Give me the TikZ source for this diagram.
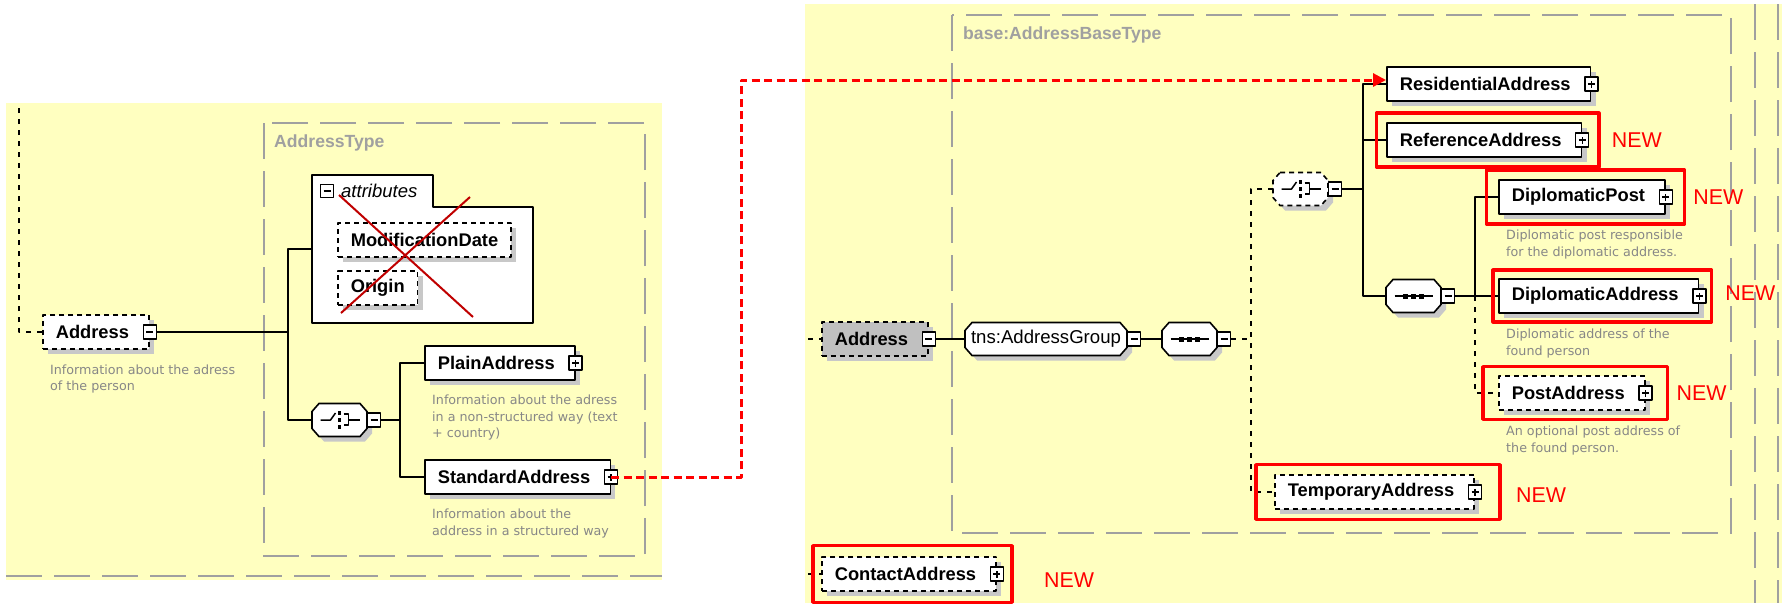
\documentclass[tikz,border=0pt]{standalone}
\usepackage{fontspec}
\setmainfont{Liberation Sans}
\newfontfamily\descfont{DejaVu Sans}
\usetikzlibrary{calc}
\usetikzlibrary{arrows.meta}
\usetikzlibrary{positioning}
\usetikzlibrary{fit}
\usetikzlibrary{shadows}

\definecolor{paneyellow}{RGB}{255,255,192}
\definecolor{framegray}{RGB}{160,160,160}
\definecolor{shadegray}{RGB}{200,200,200}
\definecolor{descgray}{RGB}{135,135,135}
\definecolor{keygray}{RGB}{192,192,192}
\definecolor{crossred}{RGB}{192,0,0}
\definecolor{markred}{RGB}{255,0,0}

\pgfdeclarelayer{panes}
\pgfdeclarelayer{shapes}
\pgfsetlayers{panes,shapes,main}

\newcommand{\btnpad}{\hspace*{7pt}}
\newcommand{\octpath}[1]{([xshift=7pt]#1.north west) -- ([xshift=-7pt]#1.north east) -- ([yshift=-8pt]#1.north east) -- ([yshift=8pt]#1.south east) -- ([xshift=-7pt]#1.south east) -- ([xshift=7pt]#1.south west) -- ([yshift=8pt]#1.south west) -- ([yshift=-8pt]#1.north west) -- cycle}

\begin{document}
\begin{tikzpicture}[x=1pt, y=-1pt, line join = round, >={Triangle[length=13pt, width=13pt]}]
\tikzstyle{elembox}=[draw=black, line width=1.6pt, fill=white, anchor=west, minimum height=34pt, inner xsep=13pt, inner ysep=0pt, font=\fontsize{18.3pt}{22pt}\selectfont\bfseries, drop shadow={shadow xshift=5pt, shadow yshift=-5pt, fill=shadegray, opacity=1}]
\tikzstyle{optbox}=[elembox, dash pattern=on 5pt off 4pt]
\tikzstyle{comp}=[rectangle, anchor=west, minimum width=55pt, minimum height=33pt, inner sep=0pt, outer sep=0pt]
\tikzstyle{grpbox}=[comp, minimum width=162pt, font=\fontsize{18.6pt}{22pt}\selectfont]
\tikzstyle{compline}=[draw=black, line width=1.6pt, fill=white]
\tikzstyle{compshade}=[fill=shadegray, transform canvas={shift={(5pt,-5pt)}}]
\tikzstyle{btn}=[draw=black, solid, line width=1.3pt, fill=white, minimum width=13pt, minimum height=14pt, inner sep=0pt]
\tikzstyle{minusbtn}=[btn, path picture={\draw[line width=1.3pt] ([xshift=-3.5pt]path picture bounding box.center) -- ([xshift=3.5pt]path picture bounding box.center);}]
\tikzstyle{plusbtn}=[btn, path picture={\draw[line width=1.3pt] ([xshift=-3.5pt]path picture bounding box.center) -- ([xshift=3.5pt]path picture bounding box.center); \draw[line width=1.3pt] ([yshift=-3.5pt]path picture bounding box.center) -- ([yshift=3.5pt]path picture bounding box.center);}]
\tikzstyle{descr}=[align=left, inner sep=0pt, text=descgray, font=\descfont\fontsize{12.7pt}{16.5pt}\selectfont]
\tikzstyle{frametitle}=[anchor=west, inner sep=0pt, text=framegray, font=\fontsize{17.6pt}{20pt}\selectfont\bfseries]
\tikzstyle{typeframe}=[draw=framegray, line width=2pt, dash pattern=on 36pt off 12pt]
\tikzstyle{link}=[draw=black, line width=1.6pt]
\tikzstyle{optlink}=[draw=black, line width=1.6pt, dash pattern=on 5pt off 6pt]
\tikzstyle{redlink}=[draw=markred, line width=3pt, dash pattern=on 8pt off 4.5pt, ->]
\tikzstyle{newmark}=[draw=markred, line width=3.5pt, inner sep=9pt]
\tikzstyle{newtag}=[inner sep=0pt, text=markred, font=\fontsize{21.4pt}{24pt}\selectfont]
\tikzset{
  seqmark/.pic={
    \draw[solid, line width=1.5pt] (-19,0) -- (19,0);
    \foreach \dx in {-8,0,8} \fill (\dx-2.5,-2.5) rectangle (\dx+2.5,2.5);
  },
  choicemark/.pic={
    \draw[solid, line width=1.5pt] (-19,0) -- (-9,0) -- (-4,-7);
    \foreach \dy in {-7,0,7} \fill (-1.7,\dy-1.7) rectangle (1.7,\dy+1.7);
    \draw[solid, line width=1.5pt] (4,-6) -- (9,-6) -- (9,5) -- (4,5) (9,0) -- (20,0);
  }
}
\useasboundingbox (0,0) rectangle (1787,603);

\begin{pgfonlayer}{panes}
\fill[white] (0,0) rectangle (1787,603);
\fill[paneyellow] (6,103) rectangle (662,580);
\draw[typeframe] (6,576) -- (662,576);
\draw[typeframe] (264,123) rectangle (645,556);
\fill[paneyellow] (805,4) rectangle (1782,603);
\draw[typeframe] (952,15) rectangle (1731,533);
\draw[typeframe] (1755,4) -- (1755,603);
\draw[typeframe] (1778,4) -- (1778,603);
\end{pgfonlayer}
\node[frametitle] (addrtype-title) at (274,143) {AddressType};
\node[frametitle] (basetype-title) at (963,35) {base:AddressBaseType};

\node[optbox] (addr1) at (42,332) {Address\btnpad};
\node[minusbtn] (addr1-pm) at (addr1.east) {};
\node[descr, below right=14.5pt and 8pt of addr1.south west] (addr1-desc) {Information about the adress\\of the person};

\node[anchor=north west, minimum width=221pt, minimum height=148pt, inner sep=0pt, outer sep=0pt] (attr) at (312,175) {};
\draw[line width=1.6pt, fill=white] (attr.south west) -- (attr.north west) -- ([xshift=121pt]attr.north west) -- ([xshift=121pt, yshift=-32pt]attr.north west) -- ([yshift=-32pt]attr.north east) -- (attr.south east) -- cycle;
\node[minusbtn, minimum height=13pt] (attr-pm) at (327,191) {};
\node[anchor=west, inner sep=0pt, font=\fontsize{18.5pt}{22pt}\selectfont\itshape] (attr-title) at (341,191) {attributes};
\node[optbox] (moddate) at (337,240) {ModificationDate};
\node[optbox] (origin) at (337,288) {Origin};
\draw[crossred, line width=2pt] (339,195) -- (473,317);
\draw[crossred, line width=2pt] (470,197) -- (341,313);

\node[comp] (choice1) at (312,420) {};
\pic at (choice1.center) {choicemark};
\node[minusbtn, anchor=west] (choice1-pm) at (choice1.east) {};

\node[elembox] (plain) at (424,363) {PlainAddress\btnpad};
\node[plusbtn] (plain-pm) at (plain.east) {};
\node[descr, below right=14pt and 8pt of plain.south west] (plain-desc) {Information about the adress\\in a non-structured way (text\\+ country)};
\node[elembox] (std) at (424,477) {StandardAddress\btnpad};
\node[plusbtn] (std-pm) at (std.east) {};
\node[descr, below right=14pt and 8pt of std.south west] (std-desc) {Information about the\\address in a structured way};

\coordinate (t1) at (288,332);
\coordinate (t2) at (400,420);
\coordinate (leftstub) at (19,108);
\draw[optlink] (addr1.west) -| (leftstub);
\draw[link] (addr1-pm.east) -- (t1);
\draw[link] (attr.west) -| (t1) |- (choice1.west);
\draw[link] (choice1-pm.east) -- (t2);
\draw[link] (plain.west) -| (t2) |- (std.west);

\node[optbox, fill=keygray] (addr2) at (821,339) {Address\btnpad};
\node[minusbtn] (addr2-pm) at (addr2.east) {};
\node[grpbox] (grp) at (965,339) {tns:AddressGroup};
\node[minusbtn, anchor=west] (grp-pm) at (grp.east) {};
\node[comp] (seq1) at (1162,339) {};
\pic at (seq1.center) {seqmark};
\node[minusbtn, anchor=west] (seq1-pm) at (seq1.east) {};
\node[comp] (choice2) at (1273,189) {};
\pic at (choice2.center) {choicemark};
\node[minusbtn, anchor=west] (choice2-pm) at (choice2.east) {};
\node[elembox] (res) at (1386,84) {ResidentialAddress\btnpad};
\node[plusbtn] (res-pm) at (res.east) {};
\node[elembox] (ref) at (1386,140) {ReferenceAddress\btnpad};
\node[plusbtn] (ref-pm) at (ref.east) {};
\node[comp] (seq2) at (1386,296) {};
\pic at (seq2.center) {seqmark};
\node[minusbtn, anchor=west] (seq2-pm) at (seq2.east) {};
\node[elembox] (dippost) at (1498,197) {DiplomaticPost\btnpad};
\node[plusbtn] (dippost-pm) at (dippost.east) {};
\node[descr, below right=15pt and 8pt of dippost.south west] (dippost-desc) {Diplomatic post responsible\\for the diplomatic address.};
\node[elembox] (dipaddr) at (1498,296) {DiplomaticAddress\btnpad};
\node[plusbtn] (dipaddr-pm) at (dipaddr.east) {};
\node[descr, below right=15pt and 8pt of dipaddr.south west] (dipaddr-desc) {Diplomatic address of the\\found person};
\node[optbox] (post) at (1498,393) {PostAddress\btnpad};
\node[plusbtn] (post-pm) at (post.east) {};
\node[descr, below right=15pt and 8pt of post.south west] (post-desc) {An optional post address of\\the found person.};
\node[optbox] (temp) at (1274,492) {TemporaryAddress\btnpad};
\node[plusbtn] (temp-pm) at (temp.east) {};
\node[optbox] (contact) at (821,574) {ContactAddress\btnpad};
\node[plusbtn] (contact-pm) at (contact.east) {};

\begin{pgfonlayer}{shapes}
\foreach \c in {choice1,grp,seq1,seq2,choice2} \fill[compshade] \octpath{\c};
\foreach \c in {choice1,grp,seq1,seq2} \draw[compline] \octpath{\c};
\draw[compline, dash pattern=on 5pt off 4pt] \octpath{choice2};
\end{pgfonlayer}

\coordinate (t3) at (1251,339);
\coordinate (t4) at (1363,189);
\coordinate (t5) at (1475,296);
\coordinate (addr2-stub) at (808,339);
\coordinate (contact-stub) at (808,574);
\coordinate (jog) at (741,0);
\draw[optlink] (addr2-stub) -- (addr2.west);
\draw[link] (addr2-pm.east) -- (grp.west);
\draw[link] (grp-pm.east) -- (seq1.west);
\draw[optlink] (seq1-pm.east) -- (t3);
\draw[optlink] (choice2.west) -| (t3) |- (temp.west);
\draw[link] (choice2-pm.east) -- (t4);
\draw[link] (res.west) -| (t4) |- (seq2.west);
\draw[link] (ref.west) -- (ref.west -| t4);
\draw[link] (seq2-pm.east) -- (dipaddr.west);
\draw[link] (dippost.west) -| (t5);
\draw[optlink] (t5) |- (post.west);
\draw[optlink] (contact-stub) -- (contact.west);
\draw[redlink] (std-pm.center) -- (std-pm.center -| jog) |- ([yshift=4pt]res.west);

\node[newmark, inner xsep=9.5pt, fit=(ref)(ref-pm)] (ref-mark) {};
\node[newtag, right=11pt of ref-mark] (ref-new) {NEW};
\node[newmark, inner xsep=11.5pt, fit=(dippost)(dippost-pm)] (dippost-mark) {};
\node[newtag, right=7pt of dippost-mark] (dippost-new) {NEW};
\node[newmark, inner xsep=5pt, inner ysep=8pt, fit=(dipaddr)(dipaddr-pm)] (dipaddr-mark) {};
\node[newtag, right=12pt of dipaddr-mark, yshift=2.5pt] (dipaddr-new) {NEW};
\node[newmark, inner xsep=15pt, inner ysep=8.5pt, fit=(post)(post-pm)] (post-mark) {};
\node[newtag, right=7pt of post-mark] (post-new) {NEW};
\node[newmark, inner xsep=18pt, inner ysep=9.5pt, fit=(temp)(temp-pm)] (temp-mark) {};
\node[newtag, right=14pt of temp-mark, yshift=-3pt] (temp-new) {NEW};
\node[newmark, inner xsep=8pt, inner ysep=10.5pt, fit=(contact)(contact-pm)] (contact-mark) {};
\node[newtag, right=30pt of contact-mark, yshift=-6.5pt] (contact-new) {NEW};
\end{tikzpicture}
\end{document}
